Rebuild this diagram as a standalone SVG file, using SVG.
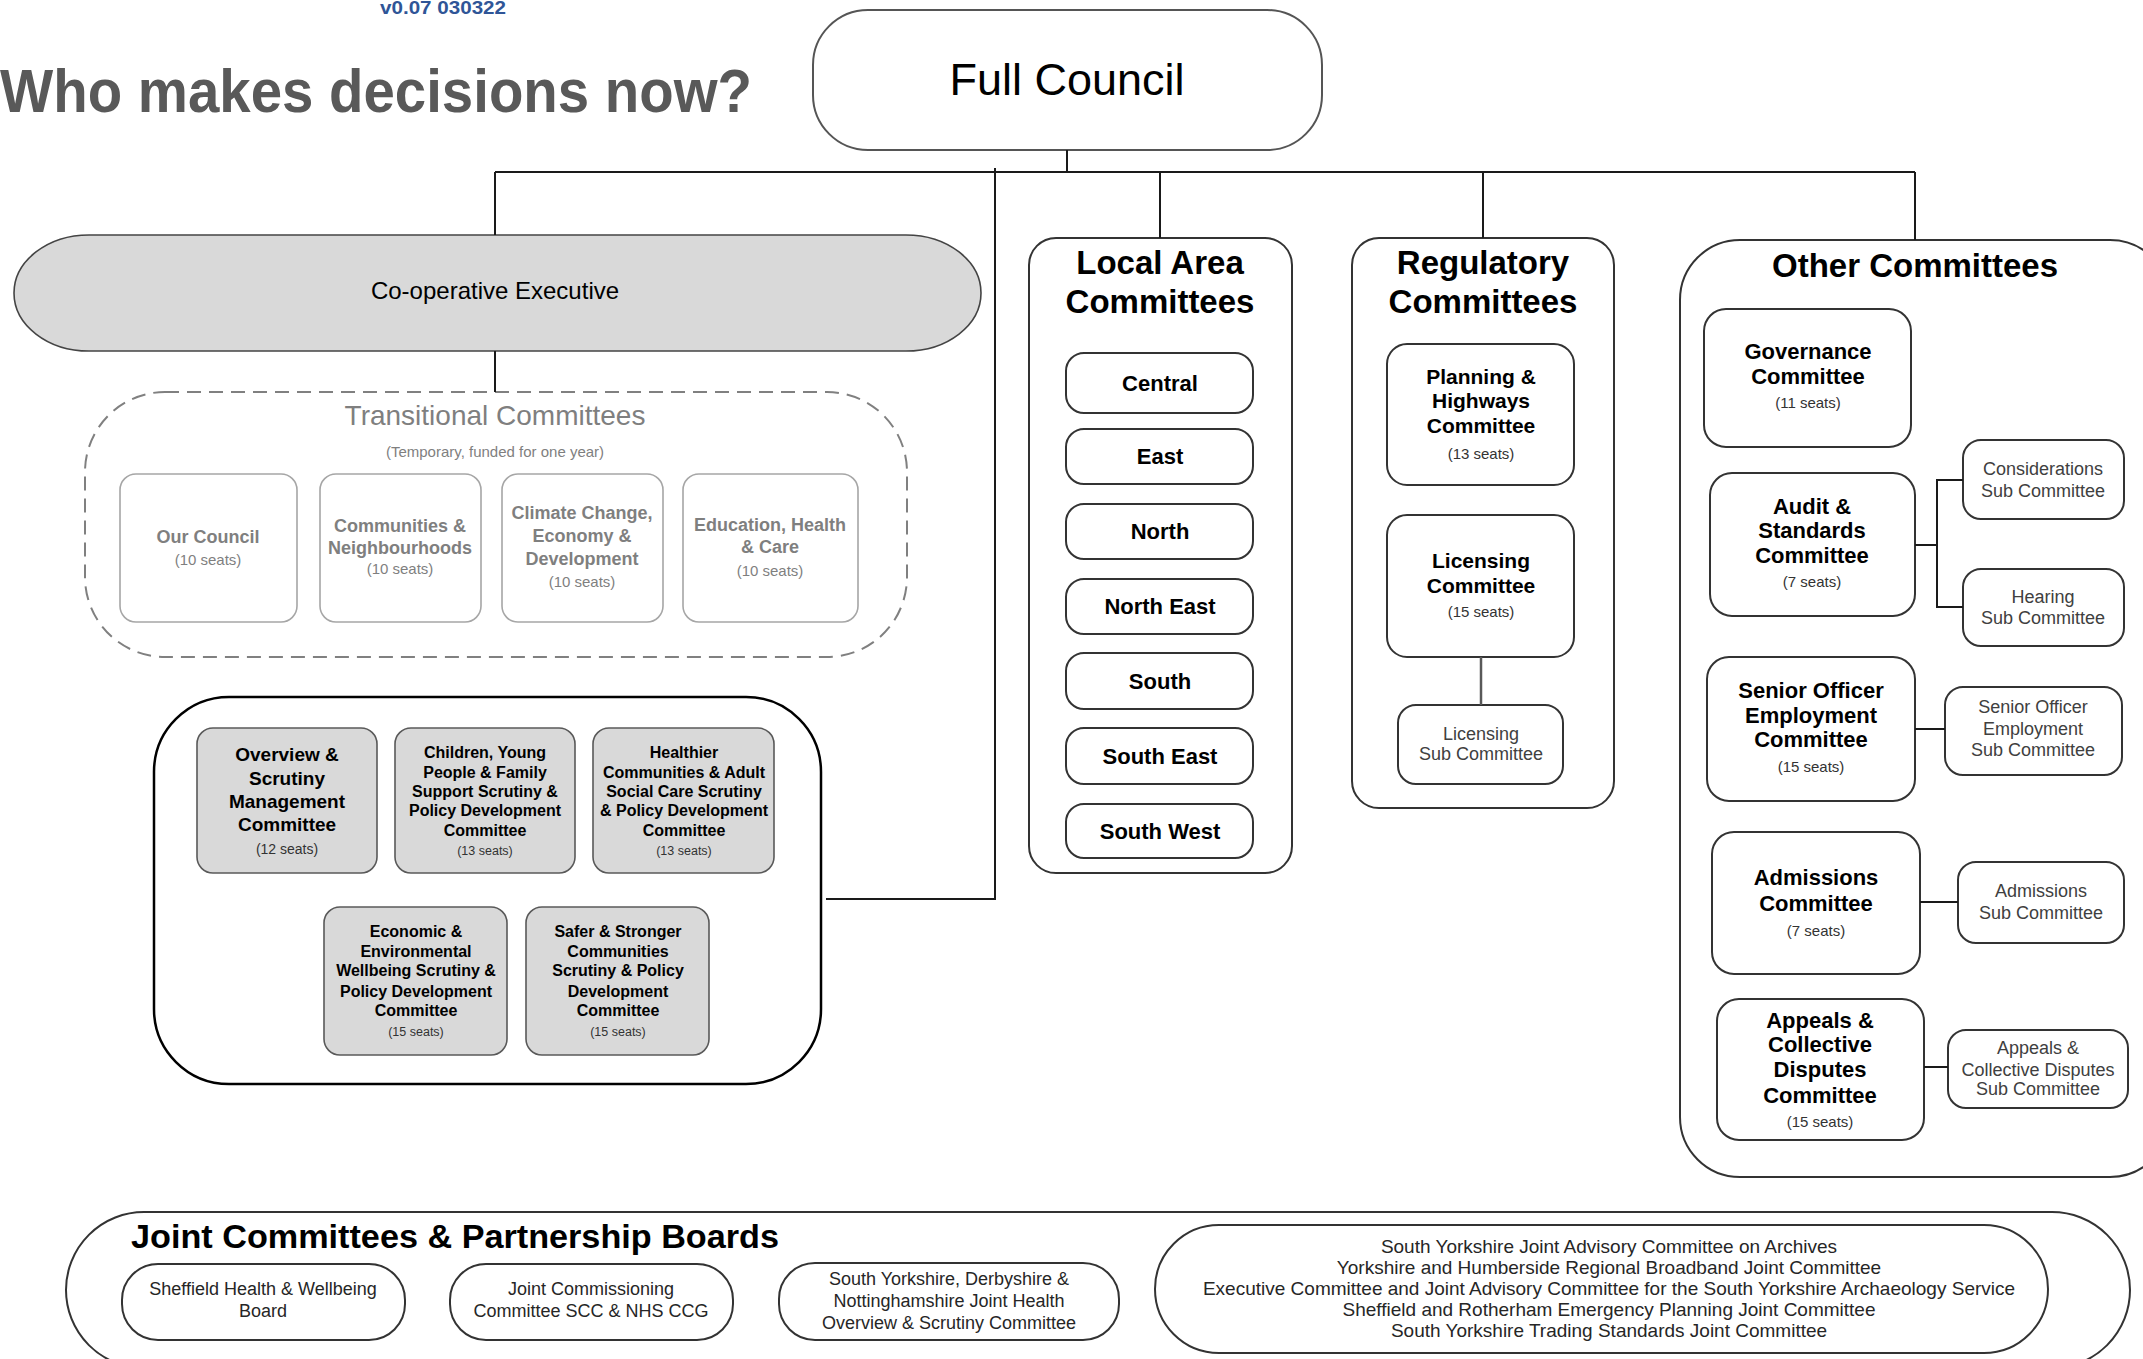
<svg xmlns="http://www.w3.org/2000/svg" width="2143" height="1359" viewBox="0 0 2143 1359">
<style>
text{font-family:"Liberation Sans",Arial,sans-serif;text-anchor:middle}
.box{fill:#fff;stroke:#333;stroke-width:2}
.sect{fill:#fff;stroke:#333;stroke-width:2}
.grey{fill:#d9d9d9;stroke:#595959;stroke-width:1.6}
.tbox{fill:#fff;stroke:#a6a6a6;stroke-width:1.6}
.conn{stroke:#1a1a1a;stroke-width:2;fill:none}
.h{font-weight:bold;font-size:33px;fill:#000}
.b22{font-weight:bold;font-size:22px;fill:#000}
.b16{font-weight:bold;font-size:16px;fill:#000}
.b19{font-weight:bold;font-size:19px;fill:#000}
.tg{font-weight:bold;font-size:18px;fill:#7f7f7f}
.ts{font-size:15px;fill:#7f7f7f}
.seat{font-size:15px;fill:#333}
.s12{font-size:12.5px;fill:#333}
.sub{font-size:18px;fill:#404040}
.jt{font-size:18px;fill:#262626}
.jl{font-size:19px;fill:#262626}
</style>

<text x="443" y="14" style="font-weight:bold;font-size:19px;fill:#2f5597" textLength="126" lengthAdjust="spacingAndGlyphs">v0.07 030322</text>
<text x="0" y="112" style="text-anchor:start;font-weight:bold;font-size:62px;fill:#595959" textLength="752" lengthAdjust="spacingAndGlyphs">Who makes decisions now?</text>

<g id="full-council">
<rect x="813" y="10" width="509" height="140" rx="55" class="box" style="stroke:#555"/>
<text x="1067" y="95" style="font-size:45px;fill:#000">Full Council</text>
</g>

<g id="cooperative-executive">
<rect x="14" y="235" width="967" height="116" rx="75" ry="58" class="grey" style="stroke:#444"/>
<text x="495" y="299" style="font-size:24px;fill:#000">Co-operative Executive</text>
</g>

<g id="transitional-committees">
<rect x="85" y="392" width="822" height="265" rx="80" style="fill:none;stroke:#808080;stroke-width:2;stroke-dasharray:14 8"/>
<text x="495" y="425" style="font-size:28px;fill:#7f7f7f">Transitional Committees</text>
<text x="495" y="457" class="ts">(Temporary, funded for one year)</text>
</g>
<g id="our-council">
<rect x="120" y="474" width="177" height="148" rx="16" class="tbox"/>
<text x="208" y="543" class="tg">Our Council</text>
<text x="208" y="565" class="ts">(10 seats)</text>
</g>
<g id="communities-neighbourhoods">
<rect x="320" y="474" width="161" height="148" rx="16" class="tbox"/>
<text x="400" y="532" class="tg">Communities &amp;</text>
<text x="400" y="554" class="tg">Neighbourhoods</text>
<text x="400" y="574" class="ts">(10 seats)</text>
</g>
<g id="climate-change">
<rect x="502" y="474" width="161" height="148" rx="16" class="tbox"/>
<text x="582" y="519" class="tg">Climate Change,</text>
<text x="582" y="542" class="tg">Economy &amp;</text>
<text x="582" y="565" class="tg">Development</text>
<text x="582" y="587" class="ts">(10 seats)</text>
</g>
<g id="education-health-care">
<rect x="683" y="474" width="175" height="148" rx="16" class="tbox"/>
<text x="770" y="531" class="tg">Education, Health</text>
<text x="770" y="553" class="tg">&amp; Care</text>
<text x="770" y="576" class="ts">(10 seats)</text>
</g>

<g id="scrutiny-group">
<rect x="154" y="697" width="667" height="387" rx="75" class="sect" style="stroke:#000;stroke-width:2.5"/>
</g>
<g id="overview-scrutiny">
<rect x="197" y="728" width="180" height="145" rx="16" class="grey"/>
<text x="287" y="761" class="b19">Overview &amp;</text>
<text x="287" y="785" class="b19">Scrutiny</text>
<text x="287" y="808" class="b19">Management</text>
<text x="287" y="831" class="b19">Committee</text>
<text x="287" y="854" class="s12" style="font-size:14px">(12 seats)</text>
</g>
<g id="children-young-people">
<rect x="395" y="728" width="180" height="145" rx="16" class="grey"/>
<text x="485" y="758" class="b16">Children, Young</text>
<text x="485" y="778" class="b16">People &amp; Family</text>
<text x="485" y="797" class="b16">Support Scrutiny &amp;</text>
<text x="485" y="816" class="b16">Policy Development</text>
<text x="485" y="836" class="b16">Committee</text>
<text x="485" y="855" class="s12">(13 seats)</text>
</g>
<g id="healthier-communities">
<rect x="593" y="728" width="181" height="145" rx="16" class="grey"/>
<text x="684" y="758" class="b16">Healthier</text>
<text x="684" y="778" class="b16">Communities &amp; Adult</text>
<text x="684" y="797" class="b16">Social Care Scrutiny</text>
<text x="684" y="816" class="b16">&amp; Policy Development</text>
<text x="684" y="836" class="b16">Committee</text>
<text x="684" y="855" class="s12">(13 seats)</text>
</g>
<g id="economic-environmental">
<rect x="324" y="907" width="183" height="148" rx="16" class="grey"/>
<text x="416" y="937" class="b16">Economic &amp;</text>
<text x="416" y="957" class="b16">Environmental</text>
<text x="416" y="976" class="b16">Wellbeing Scrutiny &amp;</text>
<text x="416" y="997" class="b16">Policy Development</text>
<text x="416" y="1016" class="b16">Committee</text>
<text x="416" y="1036" class="s12">(15 seats)</text>
</g>
<g id="safer-stronger">
<rect x="526" y="907" width="183" height="148" rx="16" class="grey"/>
<text x="618" y="937" class="b16">Safer &amp; Stronger</text>
<text x="618" y="957" class="b16">Communities</text>
<text x="618" y="976" class="b16">Scrutiny &amp; Policy</text>
<text x="618" y="997" class="b16">Development</text>
<text x="618" y="1016" class="b16">Committee</text>
<text x="618" y="1036" class="s12">(15 seats)</text>
</g>

<g id="local-area-committees">
<rect x="1029" y="238" width="263" height="635" rx="27" class="sect"/>
<text x="1160" y="274" class="h">Local Area</text>
<text x="1160" y="313" class="h">Committees</text>
</g>
<g id="central"><rect x="1066" y="353" width="187" height="60" rx="18" class="box"/><text x="1160" y="391" class="b22">Central</text></g>
<g id="east"><rect x="1066" y="429" width="187" height="55" rx="18" class="box"/><text x="1160" y="464" class="b22">East</text></g>
<g id="north"><rect x="1066" y="504" width="187" height="55" rx="18" class="box"/><text x="1160" y="539" class="b22">North</text></g>
<g id="north-east"><rect x="1066" y="579" width="187" height="55" rx="18" class="box"/><text x="1160" y="614" class="b22">North East</text></g>
<g id="south"><rect x="1066" y="653" width="187" height="56" rx="18" class="box"/><text x="1160" y="689" class="b22">South</text></g>
<g id="south-east"><rect x="1066" y="728" width="187" height="56" rx="18" class="box"/><text x="1160" y="764" class="b22">South East</text></g>
<g id="south-west"><rect x="1066" y="804" width="187" height="54" rx="18" class="box"/><text x="1160" y="839" class="b22">South West</text></g>

<g id="regulatory-committees">
<rect x="1352" y="238" width="262" height="570" rx="27" class="sect"/>
<text x="1483" y="274" class="h">Regulatory</text>
<text x="1483" y="313" class="h">Committees</text>
</g>
<g id="planning-highways">
<rect x="1387" y="344" width="187" height="141" rx="20" class="box"/>
<text x="1481" y="384" class="b22" style="font-size:21px">Planning &amp;</text>
<text x="1481" y="408" class="b22" style="font-size:21px">Highways</text>
<text x="1481" y="433" class="b22" style="font-size:21px">Committee</text>
<text x="1481" y="459" class="seat">(13 seats)</text>
</g>
<g id="licensing-committee">
<rect x="1387" y="515" width="187" height="142" rx="20" class="box"/>
<text x="1481" y="568" class="b22" style="font-size:21px">Licensing</text>
<text x="1481" y="593" class="b22" style="font-size:21px">Committee</text>
<text x="1481" y="617" class="seat">(15 seats)</text>
</g>
<g id="licensing-sub">
<rect x="1398" y="705" width="165" height="79" rx="18" class="box"/>
<text x="1481" y="740" class="sub">Licensing</text>
<text x="1481" y="760" class="sub">Sub Committee</text>
</g>

<g id="other-committees">
<rect x="1680" y="240" width="490" height="937" rx="60" class="sect"/>
<text x="1915" y="277" class="h">Other Committees</text>
</g>
<g id="governance">
<rect x="1704" y="309" width="207" height="138" rx="22" class="box"/>
<text x="1808" y="359" class="b22">Governance</text>
<text x="1808" y="384" class="b22">Committee</text>
<text x="1808" y="408" class="seat">(11 seats)</text>
</g>
<g id="audit-standards">
<rect x="1710" y="473" width="205" height="143" rx="22" class="box"/>
<text x="1812" y="514" class="b22">Audit &amp;</text>
<text x="1812" y="538" class="b22">Standards</text>
<text x="1812" y="563" class="b22">Committee</text>
<text x="1812" y="587" class="seat">(7 seats)</text>
</g>
<g id="considerations-sub">
<rect x="1963" y="440" width="161" height="79" rx="18" class="box"/>
<text x="2043" y="475" class="sub">Considerations</text>
<text x="2043" y="497" class="sub">Sub Committee</text>
</g>
<g id="hearing-sub">
<rect x="1963" y="569" width="161" height="77" rx="18" class="box"/>
<text x="2043" y="603" class="sub">Hearing</text>
<text x="2043" y="624" class="sub">Sub Committee</text>
</g>
<g id="senior-officer-employment">
<rect x="1707" y="657" width="208" height="144" rx="22" class="box"/>
<text x="1811" y="698" class="b22">Senior Officer</text>
<text x="1811" y="723" class="b22">Employment</text>
<text x="1811" y="747" class="b22">Committee</text>
<text x="1811" y="772" class="seat">(15 seats)</text>
</g>
<g id="senior-officer-sub">
<rect x="1945" y="687" width="177" height="88" rx="18" class="box"/>
<text x="2033" y="713" class="sub">Senior Officer</text>
<text x="2033" y="735" class="sub">Employment</text>
<text x="2033" y="756" class="sub">Sub Committee</text>
</g>
<g id="admissions">
<rect x="1712" y="832" width="208" height="142" rx="22" class="box"/>
<text x="1816" y="885" class="b22">Admissions</text>
<text x="1816" y="911" class="b22">Committee</text>
<text x="1816" y="936" class="seat">(7 seats)</text>
</g>
<g id="admissions-sub">
<rect x="1958" y="862" width="166" height="81" rx="18" class="box"/>
<text x="2041" y="897" class="sub">Admissions</text>
<text x="2041" y="919" class="sub">Sub Committee</text>
</g>
<g id="appeals">
<rect x="1717" y="999" width="207" height="141" rx="22" class="box"/>
<text x="1820" y="1028" class="b22">Appeals &amp;</text>
<text x="1820" y="1052" class="b22">Collective</text>
<text x="1820" y="1077" class="b22">Disputes</text>
<text x="1820" y="1103" class="b22">Committee</text>
<text x="1820" y="1127" class="seat">(15 seats)</text>
</g>
<g id="appeals-sub">
<rect x="1948" y="1030" width="180" height="78" rx="18" class="box"/>
<text x="2038" y="1054" class="sub">Appeals &amp;</text>
<text x="2038" y="1076" class="sub">Collective Disputes</text>
<text x="2038" y="1095" class="sub">Sub Committee</text>
</g>

<g id="joint-committees">
<rect x="66" y="1212" width="2064" height="156" rx="78" class="sect"/>
<text x="131" y="1248" style="text-anchor:start;font-weight:bold;font-size:33px;fill:#000" textLength="648" lengthAdjust="spacingAndGlyphs">Joint Committees &amp; Partnership Boards</text>
</g>
<g id="sheffield-health-wellbeing">
<rect x="122" y="1264" width="283" height="76" rx="36" class="box"/>
<text x="263" y="1295" class="jt">Sheffield Health &amp; Wellbeing</text>
<text x="263" y="1317" class="jt">Board</text>
</g>
<g id="joint-commissioning">
<rect x="450" y="1264" width="283" height="76" rx="36" class="box"/>
<text x="591" y="1295" class="jt">Joint Commissioning</text>
<text x="591" y="1317" class="jt">Committee SCC &amp; NHS CCG</text>
</g>
<g id="sy-derbyshire-notts">
<rect x="779" y="1263" width="340" height="77" rx="36" class="box"/>
<text x="949" y="1285" class="jt">South Yorkshire, Derbyshire &amp;</text>
<text x="949" y="1307" class="jt">Nottinghamshire Joint Health</text>
<text x="949" y="1329" class="jt">Overview &amp; Scrutiny Committee</text>
</g>
<g id="joint-list">
<rect x="1155" y="1225" width="893" height="128" rx="64" class="box"/>
<text x="1609" y="1253" class="jl">South Yorkshire Joint Advisory Committee on Archives</text>
<text x="1609" y="1274" class="jl">Yorkshire and Humberside Regional Broadband Joint Committee</text>
<text x="1609" y="1295" class="jl">Executive Committee and Joint Advisory Committee for the South Yorkshire Archaeology Service</text>
<text x="1609" y="1316" class="jl">Sheffield and Rotherham Emergency Planning Joint Committee</text>
<text x="1609" y="1337" class="jl">South Yorkshire Trading Standards Joint Committee</text>
</g>

<g id="connectors">
<line class="conn" x1="1067" y1="150" x2="1067" y2="172"/>
<line class="conn" x1="495" y1="172" x2="1915" y2="172"/>
<line class="conn" x1="495" y1="172" x2="495" y2="235"/>
<line class="conn" x1="1160" y1="172" x2="1160" y2="238"/>
<line class="conn" x1="1483" y1="172" x2="1483" y2="238"/>
<line class="conn" x1="1915" y1="172" x2="1915" y2="240"/>
<polyline class="conn" points="995,168 995,899 826,899"/>
<line class="conn" x1="495" y1="351" x2="495" y2="392"/>
<line class="conn" x1="1481" y1="657" x2="1481" y2="705" style="stroke:#595959;stroke-width:2.5"/>
<polyline class="conn" points="1915,545 1937,545"/>
<polyline class="conn" points="1963,480 1937,480 1937,607 1963,607"/>
<line class="conn" x1="1915" y1="729" x2="1945" y2="729"/>
<line class="conn" x1="1920" y1="902" x2="1958" y2="902"/>
<line class="conn" x1="1924" y1="1067" x2="1948" y2="1067"/>
</g>
</svg>
